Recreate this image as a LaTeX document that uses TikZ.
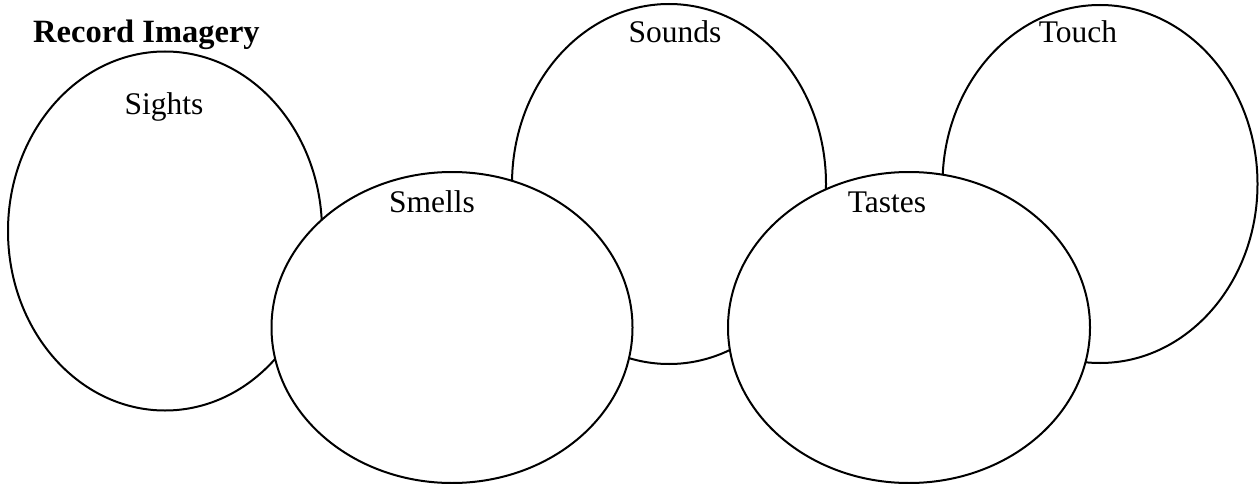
\documentclass[tikz,border=0pt]{standalone}
\usepackage{fontspec}
\setmainfont{Liberation Serif}
\usetikzlibrary{shapes.geometric}
\begin{document}
\begin{tikzpicture}[x=1pt,y=-1pt,
  oval/.style={ellipse, draw=black, line width=2pt, fill=white, inner sep=0pt},
  lbl/.style={anchor=base, inner sep=0pt, font=\fontsize{31.5}{36}\selectfont}]
\useasboundingbox (0,0) rectangle (1260,484);
% back ellipses
\node[oval, minimum width=314pt, minimum height=359pt] (sights) at (165,231) {};
\node[oval, minimum width=314pt, minimum height=360pt] (sounds) at (669,184) {};
\node[oval, minimum width=315pt, minimum height=358pt] (touch) at (1100,184) {};
% front ellipses
\node[oval, minimum width=361pt, minimum height=311pt] (smells) at (452,327.5) {};
\node[oval, minimum width=362pt, minimum height=311pt] (tastes) at (909,327.5) {};
% labels
\node[lbl, anchor=base west, font=\fontsize{32.5}{36}\selectfont\bfseries] (title) at (33,43) {Record Imagery};
\node[lbl] (tsights) at (164,115) {Sights};
\node[lbl] (tsounds) at (675,43) {Sounds};
\node[lbl] (ttouch) at (1078,43) {Touch};
\node[lbl] (tsmells) at (432,212) {Smells};
\node[lbl] (ttastes) at (887,212) {Tastes};
\end{tikzpicture}
\end{document}
